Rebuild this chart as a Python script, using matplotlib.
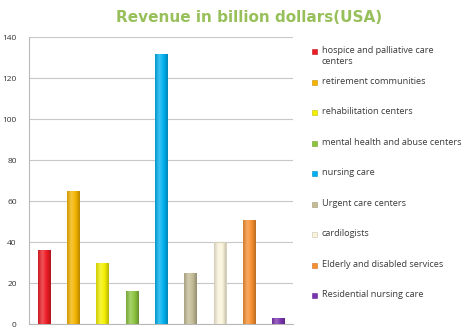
import numpy as np
import matplotlib
matplotlib.use("Agg")
import matplotlib.pyplot as plt
from matplotlib.colors import LinearSegmentedColormap, to_rgb
from matplotlib.patches import Rectangle

categories = [
    "hospice and palliative care\ncenters",
    "retirement communities",
    "rehabilitation centers",
    "mental health and abuse centers",
    "nursing care",
    "Urgent care centers",
    "cardilogists",
    "Elderly and disabled services",
    "Residential nursing care",
]
revenue = [36, 65, 30, 16, 132, 25, 40, 51, 3]
colors = ["#ee1c25", "#f5b400", "#f4f000", "#8cc43f", "#00b0f0",
          "#c4bc96", "#fbf4dc", "#f79030", "#7b35b0"]
yticks = [0, 20, 40, 60, 80, 100, 120, 140]

plt.rcParams["font.family"] = ["Open Sans", "DejaVu Sans"]

W, H = 470, 332
fig = plt.figure(figsize=(W / 100, H / 100), dpi=100)
ax = fig.add_axes([0.062, 0.024, 0.562, 0.864])

x = np.arange(len(categories))
bars = ax.bar(x, revenue, width=0.43, color=colors, zorder=3,
              edgecolor="none")


def shade(c, f):
    r, g, b = to_rgb(c)
    if f >= 0:
        return (r + (1 - r) * f, g + (1 - g) * f, b + (1 - b) * f)
    return (r * (1 + f), g * (1 + f), b * (1 + f))


# cylinder-like horizontal shading on each bar
grad = np.linspace(0, 1, 64).reshape(1, -1)
for bar, c in zip(bars, colors):
    cmap = LinearSegmentedColormap.from_list(
        "cyl", [shade(c, -0.15), shade(c, 0.25), c, shade(c, -0.25)])
    x0, y0 = bar.get_x(), bar.get_y()
    w, h = bar.get_width(), bar.get_height()
    im = ax.imshow(grad, extent=[x0, x0 + w, y0, y0 + h], aspect="auto",
                   cmap=cmap, zorder=4, interpolation="bicubic")
    im.set_clip_path(bar)
    if c == "#fbf4dc":
        ax.add_patch(Rectangle((x0, y0), w, h, fill=False,
                               edgecolor="#d6d0bd", lw=0.8, zorder=5))

ax.set_xlim(-0.5, len(categories) - 0.5)
ax.set_ylim(0, 140)
ax.set_yticks(yticks)
ax.set_xticks([])
ax.tick_params(axis="y", length=0, pad=9, labelsize=6, labelcolor="#333333")
ax.yaxis.grid(True, color="#c8c8c8", lw=0.8, zorder=0)
for s in ["top", "right"]:
    ax.spines[s].set_visible(False)
for s in ["left", "bottom"]:
    ax.spines[s].set_color("#b8b8b8")
    ax.spines[s].set_linewidth(0.8)

fig.text(249 / W, 1 - 17 / H, "Revenue in billion dollars(USA)", ha="center",
         va="center", fontsize=11, fontweight="bold", color="#98c05a",
         family=["DejaVu Sans"])

# legend: colour key with one row per category, evenly spaced
for i, (name, c) in enumerate(zip(categories, colors)):
    yc = 51.7 + i * 30.5
    fig.patches.append(Rectangle(((311.5) / W, 1 - (yc + 2.6) / H),
                                 5.2 / W, 5.2 / H, transform=fig.transFigure,
                                 facecolor=c, edgecolor=shade(c, -0.2),
                                 lw=0.4, figure=fig))
    fig.text(321.5 / W, 1 - (yc - 5.5) / H, name, ha="left", va="top",
             fontsize=6.6, color="#3a3a3a", linespacing=1.25)

fig.savefig("out.png", dpi=100)
